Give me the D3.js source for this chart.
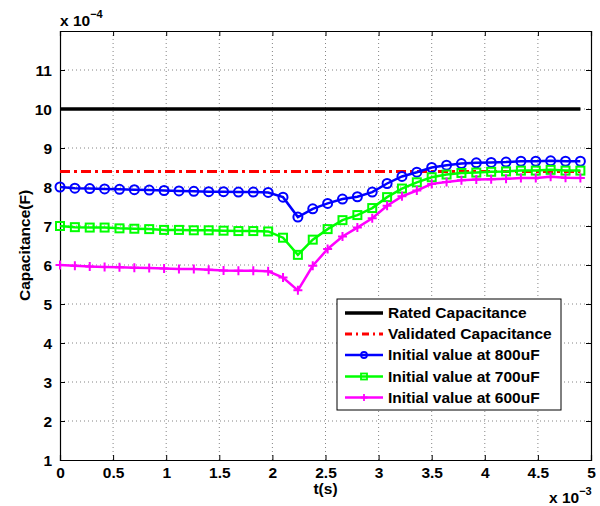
<!DOCTYPE html>
<html><head><meta charset="utf-8">
<script src="https://cdn.jsdelivr.net/npm/d3@7"></script>
<style>body{margin:0;background:#fff}svg{display:block}text{font-family:"Liberation Sans",Arial,sans-serif;font-weight:bold}</style>
</head><body><svg id="c" width="600" height="506"></svg>
<script>
// time in units of 1e-3 s
const tStep = 0.14;
const tValues = d3.range(36).map(i => +(i * tStep).toFixed(2));
// capacitance in units of 1e-4 F
const ratedValue = 10;
const validatedValue = 8.4;
const series800 = [8.00,7.97,7.96,7.95,7.94,7.93,7.92,7.91,7.90,7.89,7.88,7.88,7.87,7.87,7.86,7.74,7.23,7.44,7.58,7.69,7.75,7.87,8.09,8.27,8.38,8.50,8.56,8.60,8.62,8.63,8.64,8.66,8.66,8.67,8.66,8.66];
const series700 = [7.00,6.97,6.96,6.96,6.94,6.93,6.92,6.90,6.90,6.89,6.89,6.88,6.87,6.87,6.86,6.70,6.26,6.65,6.92,7.15,7.28,7.46,7.74,7.96,8.12,8.25,8.32,8.36,8.37,8.39,8.40,8.42,8.42,8.44,8.42,8.42];
const series600 = [6.00,5.98,5.96,5.95,5.94,5.93,5.92,5.91,5.90,5.90,5.88,5.86,5.85,5.85,5.84,5.68,5.35,5.98,6.41,6.73,6.96,7.20,7.52,7.76,7.91,8.08,8.13,8.17,8.19,8.20,8.21,8.23,8.23,8.26,8.24,8.23];
const xTicks = [0,0.5,1,1.5,2,2.5,3,3.5,4,4.5,5];
const yTicks = [1,2,3,4,5,6,7,8,9,10,11];
const legendLabels = ["Rated Capacitance","Validated Capacitance","Initial value at 800uF","Initial value at 700uF","Initial value at 600uF"];

const svg = d3.select("#c");
const L = 60, R = 591, T = 31, B = 460;
const x = d3.scaleLinear().domain([0,5]).range([L,R]);
const y = d3.scaleLinear().domain([1,12]).range([B,T]);

// grid
const g = svg.append("g");
g.selectAll(".gx").data(xTicks.slice(1,-1)).enter().append("line")
 .attr("x1",d=>x(d)).attr("x2",d=>x(d)).attr("y1",T).attr("y2",B)
 .attr("stroke","#666").attr("stroke-width",0.8).attr("stroke-dasharray","1,3");
g.selectAll(".gy").data(yTicks.slice(1)).enter().append("line")
 .attr("y1",d=>y(d)).attr("y2",d=>y(d)).attr("x1",L).attr("x2",R)
 .attr("stroke","#666").attr("stroke-width",0.8).attr("stroke-dasharray","1,3");

// axes
const fs = 15.5;
const ax = svg.append("g").attr("transform",`translate(0,${B})`)
 .call(d3.axisBottom(x).tickValues(xTicks).tickSize(-5).tickPadding(7).tickFormat(d3.format("")));
const axT = svg.append("g").attr("transform",`translate(0,${T})`)
 .call(d3.axisTop(x).tickValues(xTicks).tickSize(-5).tickFormat(""));
const ay = svg.append("g").attr("transform",`translate(${L},0)`)
 .call(d3.axisLeft(y).tickValues(yTicks).tickSize(-5).tickPadding(8));
const ayR = svg.append("g").attr("transform",`translate(${R},0)`)
 .call(d3.axisRight(y).tickValues(yTicks).tickSize(-5).tickFormat(""));
[ax,axT,ay,ayR].forEach(a=>{
  a.select(".domain").attr("stroke","#000").attr("stroke-width",1.2);
  a.selectAll(".tick line").attr("stroke","#000");
  a.selectAll("text").attr("font-size",fs).attr("fill","#000")
   .attr("font-family","Liberation Sans, Arial, sans-serif").attr("font-weight","bold");
});
ay.selectAll("text").attr("dy","0.35em");

// lines
const line = d3.line().x((d,i)=>x(tValues[i])).y(d=>y(d));
const tEnd = tValues[tValues.length-1];
svg.append("line").attr("x1",x(0)).attr("x2",x(tEnd)).attr("y1",y(ratedValue)).attr("y2",y(ratedValue))
 .attr("stroke","#000").attr("stroke-width",3.5);
svg.append("line").attr("x1",x(0)).attr("x2",x(tEnd)).attr("y1",y(validatedValue)).attr("y2",y(validatedValue))
 .attr("stroke","#f00").attr("stroke-width",3).attr("stroke-dasharray","10,4,3,4");

const seriesDefs = [
  {data:series800,color:"#0000ff",marker:"circle"},
  {data:series700,color:"#00ff00",marker:"square"},
  {data:series600,color:"#ff00ff",marker:"plus"}
];
function drawMarker(sel,type,color){
  if(type==="circle"){
    sel.append("circle").attr("r",4.5).attr("fill","none").attr("stroke",color).attr("stroke-width",2);
  } else if(type==="square"){
    sel.append("rect").attr("x",-4).attr("y",-4).attr("width",8).attr("height",8).attr("fill","none").attr("stroke",color).attr("stroke-width",2);
  } else {
    sel.append("path").attr("d","M-4.5,0H4.5M0,-4.5V4.5").attr("stroke",color).attr("stroke-width",2);
  }
}
seriesDefs.forEach(s=>{
  svg.append("path").attr("d",line(s.data)).attr("fill","none").attr("stroke",s.color).attr("stroke-width",2.5);
  const mg = svg.append("g");
  s.data.forEach((v,i)=>{
    const m = mg.append("g").attr("transform",`translate(${x(tValues[i])},${y(v)})`);
    drawMarker(m,s.marker,s.color);
  });
});

// legend
const lg = svg.append("g");
lg.append("rect").attr("x",337).attr("y",299).attr("width",224).attr("height",111)
 .attr("fill","#fff").attr("stroke","#000").attr("stroke-width",1);
const rowsY = [313,334,355,376.5,397.5];
const legStyles = [
  {color:"#000",w:3.5,dash:null,marker:null},
  {color:"#f00",w:3,dash:"7,4,2,4",marker:null},
  {color:"#0000ff",w:2.5,dash:null,marker:"circle"},
  {color:"#00ff00",w:2.5,dash:null,marker:"square"},
  {color:"#ff00ff",w:2.5,dash:null,marker:"plus"}
];
legendLabels.forEach((lab,i)=>{
  const st = legStyles[i];
  const ln = lg.append("line").attr("x1",345).attr("x2",383).attr("y1",rowsY[i]).attr("y2",rowsY[i])
   .attr("stroke",st.color).attr("stroke-width",st.w);
  if(st.dash) ln.attr("stroke-dasharray",st.dash);
  if(st.marker){
    const m = lg.append("g").attr("transform",`translate(364,${rowsY[i]})`);
    if(st.marker==="circle") m.append("circle").attr("r",3).attr("fill","none").attr("stroke",st.color).attr("stroke-width",1.8);
    else if(st.marker==="square") m.append("rect").attr("x",-3).attr("y",-3).attr("width",6).attr("height",6).attr("fill","none").attr("stroke",st.color).attr("stroke-width",1.8);
    else m.append("path").attr("d","M-3.5,0H3.5M0,-3.5V3.5").attr("stroke",st.color).attr("stroke-width",1.8);
  }
  lg.append("text").attr("x",388).attr("y",rowsY[i]).attr("dy","0.35em").attr("font-size",fs).text(lab);
});

// axis labels
svg.append("text").attr("x",(L+R)/2).attr("y",494).attr("text-anchor","middle").attr("font-size",fs).text("t(s)");
svg.append("text").attr("transform",`translate(30,${(T+B)/2}) rotate(-90)`).attr("text-anchor","middle").attr("font-size",fs).text("Capacitance(F)");

// exponent labels
const e4 = svg.append("text").attr("x",60).attr("y",26).attr("font-size",fs);
e4.append("tspan").text("x 10");
e4.append("tspan").attr("dy",-8).attr("font-size",11).text("−4");
const e3 = svg.append("text").attr("x",549).attr("y",503).attr("font-size",fs);
e3.append("tspan").text("x 10");
e3.append("tspan").attr("dy",-8).attr("font-size",11).text("−3");
</script></body></html>
